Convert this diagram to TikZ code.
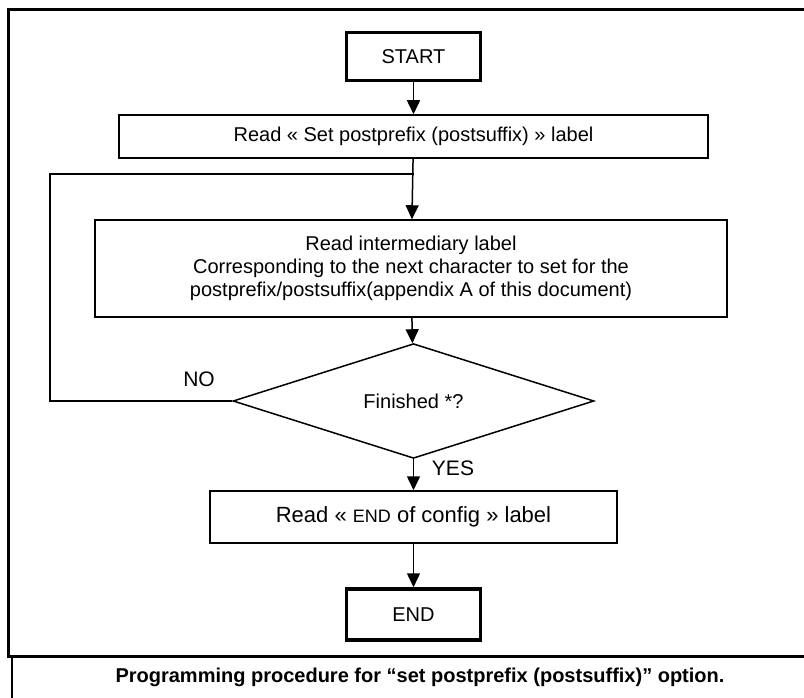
\documentclass[tikz,border=0pt]{standalone}
\usepackage{fontspec}
\setmainfont{Liberation Sans}
\usetikzlibrary{arrows.meta, shapes.geometric}

\tikzset{
  flow/.style={line width=1.5pt, -{Triangle[length=14pt,width=13pt]}},
  wire/.style={line width=1.5pt},
  box/.style={draw, line width=1.5pt, inner sep=0pt, align=center},
  term/.style={draw, line width=3.5pt, inner sep=0pt, minimum width=134pt, minimum height=48pt},
  decision/.style={draw, diamond, line width=1.5pt, inner sep=0pt, minimum width=361pt, minimum height=90pt}
}

\begin{document}
\begin{tikzpicture}[x=1pt, y=-1pt, font=\fontsize{20}{23}\selectfont]
		\useasboundingbox (0,0) rectangle (804,698);

		\draw[line width=3pt] (812,10) -| (8,656) -- (812,656);
		\draw[line width=2.5pt] (12,656) -- (12,702);

		\node[term] (start) at (413.5,56.5) {START};
		\node[box, minimum width=589pt, minimum height=43pt] (set) at (413.5,136.5) {Read « Set postprefix (postsuffix) » label};
		\node[box, minimum width=632pt, minimum height=97pt] (inter) at (411,268.5) {Read intermediary label\\Corresponding to the next character to set for the\\postprefix/postsuffix(appendix A of this document)};
		\node[decision] (done) at (413.5,401) {Finished *?};
		\node[box, minimum width=407pt, minimum height=52pt, font=\fontsize{22}{25}\selectfont] (conf) at (413.5,517) {Read « {\fontsize{18}{20}\selectfont END} of config » label};
		\node[term, minimum height=51pt] (end) at (413.5,614.5) {END};

		\coordinate (join) at (413.5,174);
		\coordinate (bend) at (50,174);

		\draw[flow] (start) -- (set);
		\draw[flow] (set) -- (inter);
		\draw[flow] (inter) -- (done);
		\draw[flow] (done) -- (conf);
		\draw[flow] (conf) -- (end);
		\draw[wire] (done.west) -| (bend) -- (join);

		\node[font=\fontsize{21}{24}\selectfont] (no) at (199,379) {NO};
		\node[font=\fontsize{21}{24}\selectfont] (yes) at (453,468) {YES};

		\node[font=\bfseries\fontsize{20}{23}\selectfont] (caption) at (420,677) {Programming procedure for “set postprefix (postsuffix)” option.};
	\end{tikzpicture}
\end{document}
